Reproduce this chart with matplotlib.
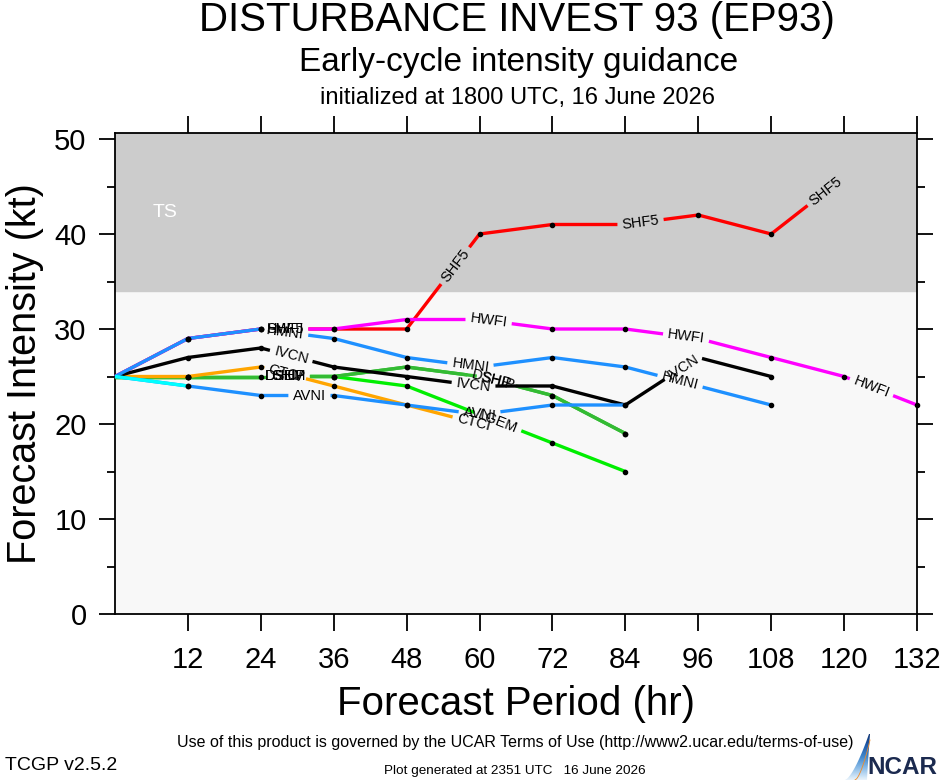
import numpy as np
import matplotlib
matplotlib.use("Agg")
import matplotlib.pyplot as plt
from matplotlib.patches import Polygon
from matplotlib.colors import LinearSegmentedColormap

plt.rcParams['font.family'] = ['Liberation Sans', 'DejaVu Sans']

# ---------------- data ----------------
shf5_hours = [0, 12, 24, 36, 48, 60, 72, 84, 96, 108, 120]
shf5 = [25, 29, 30, 30, 30, 40, 41, 41, 42, 40, 46]

hwfi_hours = [0, 12, 24, 36, 48, 60, 72, 84, 96, 108, 120, 132]
hwfi = [25, 29, 30, 30, 31, 31, 30, 30, 29, 27, 25, 22]

lgem_hours = [0, 12, 24, 36, 48, 60, 72, 84]
lgem = [25, 25, 25, 25, 24, 21, 18, 15]

dshp_hours = [0, 12, 24, 36, 48, 60, 72, 84]
dshp = [25, 25, 25, 25, 26, 25, 23, 19]

ship_hours = [0, 12, 24, 36, 48, 60, 72, 84]
ship = [25, 25, 25, 25, 26, 25, 23, 19]

ctci_hours = [0, 12, 24, 36, 48, 60]
ctci = [25, 25, 26, 24, 22, 20]

ivcn_hours = [0, 12, 24, 36, 48, 60, 72, 84, 96, 108]
ivcn = [25, 27, 28, 26, 25, 24, 24, 22, 27, 25]

avni_hours = [0, 12, 24, 36, 48, 60, 72, 84]
avni = [25, 24, 23, 23, 22, 21, 22, 22]

hmni_hours = [0, 12, 24, 36, 48, 60, 72, 84, 96, 108]
hmni = [25, 29, 30, 29, 27, 26, 27, 26, 24, 22]

cyan_hours = [0, 12]
cyan = [25, 24]

x_ticks = [12, 24, 36, 48, 60, 72, 84, 96, 108, 120, 132]
y_ticks = [0, 10, 20, 30, 40, 50]

# ---------------- style / layout ----------------
# (name, hours, values, colour, label positions in forecast hour)
series = [
    ("SHF5", shf5_hours, shf5, "#ff0000", [28, 56, 86.5, 117]),
    ("HWFI", hwfi_hours, hwfi, "#ff00ff", [28, 61.5, 94, 124.5]),
    ("LGEM", lgem_hours, lgem, "#00ee00", [28, 63]),
    ("DSHP", dshp_hours, dshp, "#33bb33", [28, 62]),
    ("SHIP", ship_hours, ship, "#33bb33", [28.5, 63]),
    ("CTCI", ctci_hours, ctci, "#ffa500", [28, 59]),
    ("IVCN", ivcn_hours, ivcn, "#000000", [29, 59, 93.5]),
    ("AVNI", avni_hours, avni, "#1e90ff", [32, 60]),
    ("HMNI", hmni_hours, hmni, "#1e90ff", [28, 58.5, 93]),
    ("", cyan_hours, cyan, "#00ffff", []),
]

W, H, DPI = 940, 780, 100
fig = plt.figure(figsize=(W / DPI, H / DPI), dpi=DPI)
L, R, T, B = 115, 917, 133, 614
ax = fig.add_axes([L / W, 1 - B / H, (R - L) / W, (B - T) / H])
px_per_kt = (B - 139) / 50.0
ymax = (B - T) / px_per_kt
ax.set_xlim(0, 132)
ax.set_ylim(0, ymax)
ax.set_facecolor("#f8f8f8")
ax.axhspan(34, ymax, color="#cccccc", zorder=0)
ax.text(8.2, 42.3, "TS", color="white", fontsize=14, ha="center", va="center")

for s in ax.spines.values():
    s.set_linewidth(1.3)
ax.set_xticks(x_ticks)
ax.set_xticklabels([str(v) for v in x_ticks])
ax.set_yticks(y_ticks)
ax.set_yticks([5, 15, 25, 35, 45], minor=True)
ax.tick_params(axis="x", which="major", direction="out", length=12, width=1.3,
               top=True, labelsize=21, pad=11)
ax.tick_params(axis="y", which="major", direction="out", length=11.5, width=1.3,
               right=True, labelsize=21, pad=9)
ax.tick_params(axis="y", which="minor", direction="out", length=5.8, width=1.3,
               right=True)
ax.set_xlabel("Forecast Period (hr)", fontsize=29, labelpad=8)
ax.set_ylabel("Forecast Intensity (kt)", fontsize=28.5, labelpad=7)

renderer = fig.canvas.get_renderer()
to_data = ax.transData.inverted()
PAD = 4.5
LW = 2.4

z = 3
for name, hx, hy, col, lab_at in series:
    xs = np.array(hx, float)
    ys = np.array(hy, float)
    pts = ax.transData.transform(np.column_stack([xs, ys]))
    seg = np.diff(pts, axis=0)
    seglen = np.hypot(seg[:, 0], seg[:, 1])
    cum = np.concatenate([[0.0], np.cumsum(seglen)])
    gaps = []
    for h in lab_at:
        i = int(np.clip(np.searchsorted(xs, h) - 1, 0, len(xs) - 2))
        t = (h - xs[i]) / (xs[i + 1] - xs[i])
        sc = cum[i] + t * seglen[i]
        p = pts[i] + t * seg[i]
        ang = np.degrees(np.arctan2(seg[i, 1], seg[i, 0]))
        dp = to_data.transform(p)
        txt = ax.text(dp[0], dp[1], name, fontsize=10.5, color="black",
                      ha="center", va="center", rotation=0,
                      rotation_mode="anchor", zorder=20)
        w = txt.get_window_extent(renderer).width
        txt.set_rotation(ang)
        gaps.append((sc - w / 2 - PAD, sc + w / 2 + PAD))
    gaps.sort()
    pieces = []
    start = 0.0
    for a, b in gaps:
        if a > start:
            pieces.append((start, a))
        start = max(start, b)
    if start < cum[-1]:
        pieces.append((start, cum[-1]))

    def at(s):
        j = int(np.clip(np.searchsorted(cum, s) - 1, 0, len(cum) - 2))
        tt = (s - cum[j]) / seglen[j] if seglen[j] > 0 else 0
        return pts[j] + tt * seg[j]

    for a, b in pieces:
        inner = [pts[k] for k in range(len(cum)) if a < cum[k] < b]
        poly = np.array([at(a)] + inner + [at(b)])
        d = to_data.transform(poly)
        ax.plot(d[:, 0], d[:, 1], color=col, lw=LW, solid_capstyle="butt",
                zorder=z, clip_on=False)
    z += 0.1
    for k in range(1, len(xs)):
        if not any(a <= cum[k] <= b for a, b in gaps):
            ax.plot(xs[k], ys[k], "o", color="black", ms=3, zorder=15,
                    clip_on=False)

# ---------------- titles ----------------
fig.text(517 / W, 1 - 20 / H, "DISTURBANCE INVEST 93 (EP93)", fontsize=29,
         ha="center", va="center")
fig.text(519 / W, 1 - 62 / H, "Early-cycle intensity guidance", fontsize=24,
         ha="center", va="center")
fig.text(518 / W, 1 - 98 / H, "initialized at 1800 UTC, 16 June 2026",
         fontsize=17, ha="center", va="center")

fig.text(515 / W, 1 - 742 / H,
         "Use of this product is governed by the UCAR Terms of Use "
         "(http://www2.ucar.edu/terms-of-use)", fontsize=11.5,
         ha="center", va="center")
fig.text(5 / W, 1 - 765 / H, "TCGP v2.5.2", fontsize=14, ha="left",
         va="center")
fig.text(515 / W, 1 - 771 / H, "Plot generated at 2351 UTC   16 June 2026",
         fontsize=9.7, ha="center", va="center")

# NCAR logo
lax = fig.add_axes([840 / W, 0, 100 / W, 50 / H])
lax.set_xlim(840, 940)
lax.set_ylim(780, 730)
lax.axis("off")
cmap = LinearSegmentedColormap.from_list(
    "sw", ["#0b2d6b", "#1f5aa8", "#3f86cc", "#8dbde8", "#e8f3fc"])
grad = np.linspace(0, 1, 100)[:, None] * np.ones((1, 10))
img = lax.imshow(grad, cmap=cmap, extent=[844, 872, 780, 733],
                 aspect="auto", zorder=1)
tt = np.linspace(0, 1, 25)
outer = np.column_stack([845 + 24 * tt ** 0.75, 780 - 46 * tt ** 1.1])
inner = np.column_stack([867 + 3 * tt, 780 - 46 * tt ** 0.9])
clip = Polygon(np.vstack([outer, inner[::-1]]), closed=True,
               transform=lax.transData, facecolor="none", edgecolor="none")
lax.add_patch(clip)
img.set_clip_path(clip)
lax.plot(855 + 15 * tt ** 0.7, 780 - 40 * tt ** 1.1, color="#f28c28", lw=0.6,
         zorder=2)
lax.text(902, 767, "NCAR", fontsize=17.5, fontweight="bold", color="#1b2a4f",
         ha="center", va="center", zorder=3)
lax.set_xlim(840, 940)
lax.set_ylim(780, 730)

fig.savefig("out.png", dpi=DPI)
